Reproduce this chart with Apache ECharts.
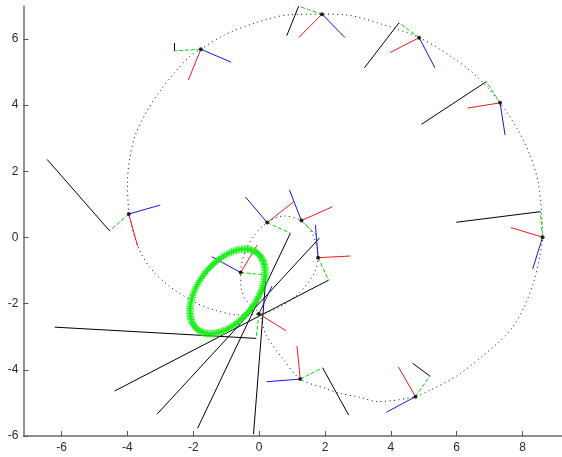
<!DOCTYPE html>
<html>
<head>
<meta charset="utf-8">
<script src="https://cdn.jsdelivr.net/npm/echarts@6/dist/echarts.min.js"></script>
<style>
  html, body { margin: 0; padding: 0; background: #ffffff; }
  #chart { width: 562px; height: 457px; }
</style>
</head>
<body>
<div id="chart"></div>
<script>
// Tick positions on both axes
const xTicks = [-6, -4, -2, 0, 2, 4, 6, 8];
const yTicks = [-6, -4, -2, 0, 2, 4, 6];

// Dotted end-effector path (outer loop, then the inner loop through the node)
const pathX = [-3.96, -4.00, -3.94, -3.76, -3.42, -3.03, -2.58, -2.12, -1.77, -1.06, -0.13, 0.90,
  1.91, 2.62, 3.62, 4.86, 5.89, 6.65, 7.32, 7.86, 8.25, 8.49, 8.61, 8.52, 8.33, 8.05, 7.72, 7.25,
  6.04, 5.20, 4.75, 3.62, 3.02, 2.41, 2.01, 1.25, 0.75, 0.21, 0.00, -0.40, -0.55, -0.56,
  -0.43, -0.16, 0.245, 0.75, 1.285, 1.60, 1.75, 1.79, 1.69, 1.45, 1.11, 0.69, 0.30, 0.00,
  -0.61, -1.37, -1.97, -2.73, -3.33, -3.70, -3.96];
const pathY = [0.71, 1.59, 2.34, 3.10, 3.80, 4.40, 4.97, 5.46, 5.69, 6.12, 6.48, 6.73,
  6.75, 6.73, 6.48, 6.04, 5.43, 4.83, 4.07, 3.25, 2.43, 1.59, 0.01, -0.60, -1.38, -2.10, -2.68, -3.19,
  -4.16, -4.61, -4.81, -4.96, -4.82, -4.70, -4.56, -4.28, -3.70, -2.95, -2.31, -1.89, -1.50, -1.06,
  -0.44, 0.05, 0.45, 0.65, 0.51, 0.14, -0.26, -0.61, -1.04, -1.41, -1.77, -2.07, -2.25, -2.31,
  -2.34, -2.19, -1.95, -1.47, -0.89, -0.23, 0.71];

// Frame origins along the path
const originX = [-3.96, -1.77, 1.91, 4.86, 7.32, 8.61, 4.75, 1.25, -0.01, 1.79, 0.245, 1.285, -0.56];
const originY = [0.71, 5.69, 6.75, 6.04, 4.07, 0.01, -4.81, -4.28, -2.31, -0.61, 0.45, 0.51, -1.06];

// Red axis tips
const redX = [-3.69, -2.15, 1.20, 3.98, 6.32, 7.65, 4.23, 1.15, 0.82, 2.77, 1.05, 2.23, -0.06];
const redY = [-0.26, 4.76, 6.04, 5.59, 3.91, 0.30, -3.91, -3.28, -2.82, -0.56, 1.08, 0.93, -0.23];

// Blue axis tips
const blueX = [-3.00, -0.85, 2.61, 5.34, 7.47, 8.31, 3.87, 0.23, 0.39, 1.71, -0.41, 0.92, -1.44];
const blueY = [0.98, 5.30, 6.04, 5.13, 3.10, -0.95, -5.28, -4.36, -1.47, 0.38, 1.22, 1.44, -0.58];

// Green (dashed) link tips
const greenX = [-4.54, -2.58, 1.20, 4.25, 6.90, 8.54, 5.19, 1.93, -0.09, 2.11, 0.95, 1.83, 0.21];
const greenY = [0.20, 5.64, 6.99, 6.49, 4.71, 0.78, -4.19, -3.94, -3.05, -1.29, 0.13, -0.02, -1.13];

// Black link ends (drawn from the green tips)
const blackX = [-6.44, -2.58, 0.84, 3.20, 4.93, 5.99, 4.66, 2.72, -6.21, -4.39, -1.87, -3.10, -0.17];
const blackY = [2.36, 5.88, 6.10, 5.13, 3.42, 0.46, -3.80, -5.37, -2.71, -4.64, -5.77, -5.34, -5.94];

// Workspace ellipse: centre x, centre y, semi-major, semi-minor, tilt (deg)
const ellipseParams = [-0.96, -1.63, 1.47, 0.88, 52];

const pairs = (xs, ys) => xs.map((x, i) => [x, ys[i]]);
const segments = (ax, ay, bx, by) => ax.map((x, i) => ({ coords: [[x, ay[i]], [bx[i], by[i]]] }));

const chart = echarts.init(document.getElementById('chart'), null, { renderer: 'canvas' });

const labelFont = { color: '#2a2a2a', fontSize: 12, fontFamily: 'Liberation Sans, Arial, sans-serif' };

function segSeries(ax, ay, bx, by, color, type) {
  return {
    type: 'lines',
    coordinateSystem: 'cartesian2d',
    silent: true,
    z: 3,
    lineStyle: { color: color, width: 1, type: type || 'solid', opacity: 1 },
    data: segments(ax, ay, bx, by)
  };
}

const option = {
  animation: false,
  backgroundColor: '#ffffff',
  grid: { left: 23.4, top: 5.9, width: 541, height: 430.1, containLabel: false },
  xAxis: {
    type: 'value',
    min: -7.16,
    max: 9.2,
    axisLine: { show: true, onZero: false, lineStyle: { color: '#6c6c6c', width: 1.5 } },
    axisTick: { show: true, inside: true, length: 5, customValues: xTicks, lineStyle: { color: '#555', width: 1 } },
    axisLabel: Object.assign({ customValues: xTicks, margin: 6 }, labelFont),
    splitLine: { show: false }
  },
  yAxis: {
    type: 'value',
    min: -6,
    max: 7,
    axisLine: { show: true, onZero: false, lineStyle: { color: '#6c6c6c', width: 1.5 } },
    axisTick: { show: true, inside: true, length: 5, customValues: yTicks, lineStyle: { color: '#555', width: 1 } },
    axisLabel: Object.assign({ customValues: yTicks, margin: 5 }, labelFont),
    splitLine: { show: false }
  },
  series: [
    {
      type: 'line',
      data: pairs(pathX, pathY),
      smooth: 0.3,
      showSymbol: false,
      silent: true,
      z: 2,
      lineStyle: { color: '#111', width: 1, type: [1, 3.5] }
    },
    segSeries(greenX, greenY, blackX, blackY, '#000000'),
    segSeries(originX, originY, greenX, greenY, '#00e000', [4, 2]),
    segSeries(originX, originY, redX, redY, '#ee1c1c'),
    segSeries(originX, originY, blueX, blueY, '#1515e0'),
    {
      type: 'scatter',
      data: pairs(originX, originY),
      symbol: 'circle',
      symbolSize: 4,
      silent: true,
      z: 5,
      itemStyle: { color: '#000' }
    },
    {
      type: 'custom',
      silent: true,
      z: 6,
      data: [ellipseParams],
      renderItem: function (params, api) {
        const c = api.coord([api.value(0), api.value(1)]);
        const s = api.size([1, 1]);
        const a = api.value(2), b = api.value(3);
        const t = api.value(4) * Math.PI / 180;
        const marks = 140, arm = 3.8;
        const ring = [];
        const children = [];
        for (let k = 0; k <= marks; k++) {
          const f = 2 * Math.PI * k / marks;
          const ex = a * Math.cos(f) * Math.cos(t) - b * Math.sin(f) * Math.sin(t);
          const ey = a * Math.cos(f) * Math.sin(t) + b * Math.sin(f) * Math.cos(t);
          const px = c[0] + ex * s[0];
          const py = c[1] - ey * s[1];
          ring.push([px, py]);
          if (k < marks) {
            children.push({ type: 'line', shape: { x1: px - arm, y1: py, x2: px + arm, y2: py },
              style: { stroke: '#22ee22', lineWidth: 1 } });
            children.push({ type: 'line', shape: { x1: px, y1: py - arm, x2: px, y2: py + arm },
              style: { stroke: '#22ee22', lineWidth: 1 } });
          }
        }
        children.unshift({ type: 'polyline', shape: { points: ring },
          style: { stroke: '#00ff00', lineWidth: 3, fill: null } });
        return { type: 'group', children: children };
      }
    }
  ]
};

chart.setOption(option);
</script>
</body>
</html>
